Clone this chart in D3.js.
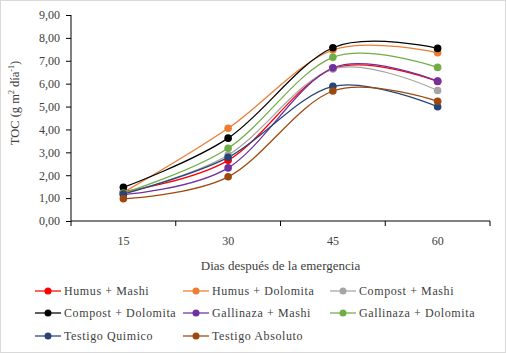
<!DOCTYPE html>
<html>
<head>
<meta charset="utf-8">
<script src="https://cdn.jsdelivr.net/npm/d3@7"></script>
<style>
  body { margin: 0; background: #fff; }
  svg text { font-family: "Liberation Serif", "Times New Roman", serif; fill: #404040; }
</style>
</head>
<body>
<svg id="chart" width="506" height="353"></svg>
<script>
"use strict";

// Days after emergence (x categories)
const days = ["15", "30", "45", "60"];

// Y axis ticks
const yTicks = [0, 1, 2, 3, 4, 5, 6, 7, 8, 9];

// Series names and colours
const seriesNames = ["Humus + Mashi", "Humus + Dolomita", "Compost + Mashi",
    "Compost + Dolomita", "Gallinaza + Mashi", "Gallinaza + Dolomita",
    "Testigo Quimico", "Testigo Absoluto"];
const seriesColors = ["#FF0000", "#ED7D31", "#A5A5A5", "#000000",
    "#7030A0", "#70AD47", "#264478", "#9E480E"];

// TOC values per series
const humusMashi = [1.28, 2.65, 6.66, 6.10];
const humusDolomita = [1.25, 4.05, 7.47, 7.35];
const compostMashi = [1.20, 2.88, 6.64, 5.70];
const compostDolomita = [1.47, 3.62, 7.57, 7.54];
const gallinazaMashi = [1.15, 2.32, 6.69, 6.11];
const gallinazaDolomita = [1.22, 3.18, 7.15, 6.71];
const testigoQuimico = [1.18, 2.78, 5.88, 4.99];
const testigoAbsoluto = [0.97, 1.93, 5.68, 5.23];

const seriesValues = [humusMashi, humusDolomita, compostMashi, compostDolomita,
    gallinazaMashi, gallinazaDolomita, testigoQuimico, testigoAbsoluto];

const series = seriesNames.map((name, i) => ({name, color: seriesColors[i], values: seriesValues[i]}));

const svg = d3.select("#chart");

// outer border
svg.append("rect")
    .attr("x", 0.5).attr("y", 0.5)
    .attr("width", 505).attr("height", 352)
    .attr("fill", "none").attr("stroke", "#d9d9d9");

const margin = {top: 15, right: 16, bottom: 132, left: 71},
    width = 506 - margin.left - margin.right,
    height = 353 - margin.top - margin.bottom;

const plot = svg.append("g")
    .attr("transform", "translate(" + margin.left + "," + margin.top + ")");

const x = d3.scaleBand().domain(days).range([0, width]).padding(0),
    y = d3.scaleLinear().domain([0, 9]).range([height, 0]);

const fmt = (d) => d.toFixed(2).replace(".", ",");

// y axis
const yAxisG = plot.append("g")
    .call(d3.axisLeft(y).tickValues(yTicks).tickFormat(fmt).tickSize(5).tickPadding(6));
yAxisG.selectAll("text").style("font-size", "12px").attr("fill", "#404040");
yAxisG.selectAll("line, path").attr("stroke", "#000");
yAxisG.select(".domain").attr("d", "M0,0V" + height);

// x axis: ticks on band boundaries
const xAxisG = plot.append("g").attr("transform", "translate(0," + height + ")");
xAxisG.append("line")
    .attr("x1", 0).attr("x2", width)
    .attr("stroke", "#000");
xAxisG.selectAll("line.tick")
    .data(d3.range(days.length + 1))
    .enter().append("line")
    .attr("class", "tick")
    .attr("x1", (i) => i * x.bandwidth()).attr("x2", (i) => i * x.bandwidth())
    .attr("y1", 0).attr("y2", 5)
    .attr("stroke", "#000");
xAxisG.selectAll("text")
    .data(days)
    .enter().append("text")
    .attr("x", (d) => x(d) + x.bandwidth() / 2)
    .attr("y", 24)
    .attr("text-anchor", "middle")
    .style("font-size", "12px")
    .text((d) => d);

// axis titles
plot.append("text")
    .attr("x", width / 2)
    .attr("y", height + 49)
    .attr("text-anchor", "middle")
    .style("font-size", "13px")
    .text("Dias  después de la emergencia");

const yTitle = svg.append("text")
    .attr("transform", "translate(19," + (margin.top + 88) + ") rotate(-90)")
    .attr("text-anchor", "middle")
    .style("font-size", "12.5px");
yTitle.append("tspan").text("TOC (g m");
yTitle.append("tspan").attr("dy", -5).style("font-size", "8px").text("2");
yTitle.append("tspan").attr("dy", 5).text(" día");
yTitle.append("tspan").attr("dy", -5).style("font-size", "8px").text("-1");
yTitle.append("tspan").attr("dy", 5).text(")");

// lines
const line = d3.line()
    .x((d, i) => x(days[i]) + x.bandwidth() / 2)
    .y((d) => y(d))
    .curve(d3.curveCardinal.tension(0));

plot.selectAll("path.series")
    .data(series)
    .enter().append("path")
    .attr("class", "series")
    .attr("d", (d) => line(d.values))
    .attr("fill", "none")
    .attr("stroke", (d) => d.color)
    .attr("stroke-width", 1.25);

plot.selectAll("g.markers")
    .data(series)
    .enter().append("g")
    .attr("class", "markers")
    .attr("fill", (d) => d.color)
    .selectAll("circle")
    .data((d) => d.values)
    .enter().append("circle")
    .attr("cx", (d, i) => x(days[i]) + x.bandwidth() / 2)
    .attr("cy", (d) => y(d))
    .attr("r", 3.8);

// legend: 3 columns
const legendCols = [35, 183, 330], legendRows = [291, 313, 336];
const legend = svg.selectAll("g.legend")
    .data(series)
    .enter().append("g")
    .attr("class", "legend")
    .attr("transform", (d, i) => "translate(" + legendCols[i % 3] + "," + legendRows[Math.floor(i / 3)] + ")");
legend.append("line")
    .attr("x1", 0).attr("x2", 26)
    .attr("stroke", (d) => d.color).attr("stroke-width", 1.25);
legend.append("circle")
    .attr("cx", 13).attr("r", 3.5)
    .attr("fill", (d) => d.color);
legend.append("text")
    .attr("x", 29).attr("y", 4)
    .style("font-size", "12px")
    .style("letter-spacing", "0.6px")
    .text((d) => d.name);
</script>
</body>
</html>
